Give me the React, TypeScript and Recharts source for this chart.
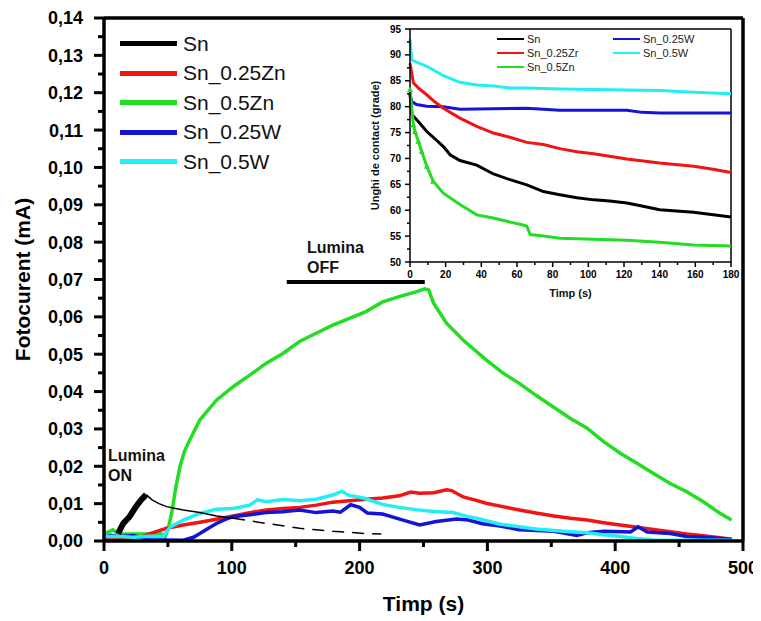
import { LineChart, Line, XAxis, YAxis, ReferenceLine, Legend } from "recharts";

const FONT = "Arial, 'Liberation Sans', sans-serif";

const BLACK = "#000000";
const RED = "#f01414";
const GREEN = "#22dd22";
const BLUE = "#1414d6";
const CYAN = "#22eef6";

// main plot: photocurrent (mA) vs time (s), pairs of [t, value]
const snRise = [[11, 0.002], [15, 0.0047], [20, 0.0065], [25, 0.0092], [29, 0.011], [33, 0.0124]];
const snFit = [[33, 0.0124], [37.6, 0.011], [43, 0.01], [49, 0.0092], [56, 0.0087], [62, 0.0083], [75, 0.0076], [88, 0.0067], [101, 0.0061]];
const snFitDash = [[101, 0.0061], [114, 0.0054], [127, 0.0047], [140, 0.0041], [153, 0.0034], [166, 0.003], [179, 0.0026], [192, 0.0023], [205, 0.002], [217, 0.0019]];
const zn25 = [[0, 0.0008], [10, 0.0006], [23, 0.0008], [30, 0.0012], [36, 0.002], [49, 0.0034], [62, 0.0043], [75, 0.005], [88, 0.0058], [101, 0.0067], [114, 0.0076], [127, 0.0083], [140, 0.0087], [153, 0.009], [166, 0.0096], [179, 0.0104], [192, 0.0108], [205, 0.0112], [218, 0.0115], [231, 0.0121], [240, 0.0131], [247, 0.0128], [258, 0.0129], [268, 0.0137], [272, 0.0135], [281, 0.0118], [290, 0.011], [299, 0.0101], [312, 0.0092], [325, 0.0083], [338, 0.0075], [352, 0.0067], [365, 0.0061], [378, 0.0056], [391, 0.0049], [404, 0.0043], [417, 0.0037], [430, 0.0031], [443, 0.0025], [456, 0.0019], [469, 0.0014], [482, 0.0009], [491, 0.0005]];
const zn5 = [[0, 0.002], [4, 0.0025], [7, 0.003], [10, 0.0022], [14, 0.0019], [25, 0.0019], [35, 0.0019], [45, 0.0019], [48, 0.0013], [50, 0.003], [53, 0.0075], [56, 0.014], [59.5, 0.02], [63, 0.024], [67, 0.027], [75, 0.0324], [88, 0.0377], [101, 0.0413], [114, 0.0444], [127, 0.0476], [140, 0.0502], [153, 0.0534], [166, 0.0556], [179, 0.0578], [192, 0.0596], [205, 0.0614], [218, 0.064], [231, 0.0654], [244, 0.0667], [251, 0.0675], [254, 0.0672], [258, 0.0636], [268, 0.0583], [281, 0.0538], [299, 0.0485], [312, 0.045], [325, 0.0422], [338, 0.039], [351, 0.036], [365, 0.0328], [378, 0.0302], [391, 0.0266], [404, 0.0235], [417, 0.0208], [430, 0.0181], [443, 0.0154], [456, 0.0132], [469, 0.0105], [482, 0.0074], [491, 0.0056]];
const w25 = [[0, 0.001], [5, 0.0015], [12, 0.0012], [23, 0.0015], [30, 0.0008], [36, 0.0005], [50, 0.0003], [62, 0.0002], [70, 0.001], [75, 0.002], [82, 0.0035], [88, 0.0047], [95, 0.0058], [101, 0.0065], [114, 0.007], [127, 0.0076], [140, 0.0078], [153, 0.0083], [166, 0.0076], [179, 0.008], [185, 0.0077], [193, 0.0097], [200, 0.009], [206, 0.0075], [218, 0.0072], [232, 0.0058], [247, 0.0043], [260, 0.0052], [276, 0.0059], [285, 0.0056], [296, 0.0046], [310, 0.004], [325, 0.003], [352, 0.0026], [370, 0.0015], [378, 0.0022], [391, 0.0026], [412, 0.0024], [418, 0.0038], [425, 0.0024], [443, 0.002], [456, 0.0012], [469, 0.001], [491, 0.0005]];
const w5 = [[0, 0.0012], [10, 0.0013], [23, 0.001], [35, 0.0013], [46, 0.0012], [52, 0.0038], [62, 0.0056], [75, 0.0074], [88, 0.0085], [101, 0.0087], [114, 0.0096], [120, 0.011], [127, 0.0105], [140, 0.0111], [153, 0.0108], [166, 0.0112], [179, 0.0123], [186, 0.0133], [192, 0.0122], [203, 0.0115], [218, 0.0098], [231, 0.009], [244, 0.0084], [258, 0.0079], [273, 0.0076], [284, 0.0066], [294, 0.0059], [310, 0.0045], [325, 0.0038], [338, 0.0032], [352, 0.0028], [365, 0.0025], [378, 0.0022], [391, 0.0017], [404, 0.0012], [417, 0.0007], [430, 0.0003], [456, 0.0002], [491, 0.0002]];

const xTicks = [0, 50, 100, 150, 200, 250, 300, 350, 400, 450, 500];
const yTicks = [0, 0.005, 0.01, 0.015, 0.02, 0.025, 0.03, 0.035, 0.04, 0.045, 0.05, 0.055, 0.06, 0.065, 0.07, 0.075, 0.08, 0.085, 0.09, 0.095, 0.1, 0.105, 0.11, 0.115, 0.12, 0.125, 0.13, 0.135, 0.14];
const lightOff = [[143, 0.0693], [251, 0.0693]];

// inset: contact angle (grade) vs time (s)
const inSn = [[0, 82.5], [1, 78.5], [5, 77], [9.4, 75.2], [14, 73.8], [18.7, 72.3], [22.5, 70.7], [28, 69.6], [37.4, 68.7], [46.8, 67], [56, 65.9], [65.5, 64.9], [74.8, 63.6], [84, 63], [93.6, 62.4], [103, 62], [112, 61.8], [121.6, 61.4], [130, 60.8], [140, 60.1], [159, 59.6], [180, 58.7]];
const inZr25 = [[0, 88.4], [1.9, 84.6], [5, 83.5], [9.4, 82.3], [14, 80.9], [18.7, 79.7], [28, 77.8], [37.4, 76.2], [46.8, 74.9], [56, 74.1], [65.5, 73.1], [74.8, 72.7], [84, 71.9], [93.6, 71.3], [103, 70.9], [121.6, 69.9], [140, 69.1], [159, 68.5], [170, 67.9], [180, 67.3]];
const inZn5 = [[0, 83.3], [1.9, 76.5], [2.8, 75.2], [4.7, 73.3], [6.5, 71.4], [9.4, 68.5], [13, 65.6], [18.7, 63.3], [28, 61.1], [37.4, 59.1], [46.8, 58.5], [56, 57.7], [63, 57.2], [65.5, 56.9], [67.4, 55.3], [74.8, 55], [84, 54.6], [103, 54.4], [121.6, 54.2], [140, 53.8], [159, 53.3], [180, 53.1]];
const inW25 = [[0, 82.3], [1, 81], [3.7, 80.4], [9.4, 80.1], [18.7, 80], [28, 79.5], [46.8, 79.6], [65.5, 79.7], [84, 79.3], [103, 79.3], [121.6, 79.3], [130, 78.9], [140, 78.8], [180, 78.8]];
const inW5 = [[0, 93], [1, 89], [9.4, 87.8], [18.7, 86], [28, 84.7], [37.4, 84.2], [46.8, 84], [56, 83.6], [65.5, 83.6], [84, 83.4], [103, 83.3], [121.6, 83.2], [140, 83.1], [159, 82.8], [180, 82.5]];

const inXTicks = [0, 10, 20, 30, 40, 50, 60, 70, 80, 90, 100, 110, 120, 130, 140, 150, 160, 170, 180];
const inYTicks = [50, 52.5, 55, 57.5, 60, 62.5, 65, 67.5, 70, 72.5, 75, 77.5, 80, 82.5, 85, 87.5, 90, 92.5, 95];

const mainLegend = [
  { name: "Sn", color: BLACK },
  { name: "Sn_0.25Zn", color: RED },
  { name: "Sn_0.5Zn", color: GREEN },
  { name: "Sn_0.25W", color: BLUE },
  { name: "Sn_0.5W", color: CYAN },
];
const insetLegendLeft = [
  { name: "Sn", color: BLACK },
  { name: "Sn_0.25Zr", color: RED },
  { name: "Sn_0.5Zn", color: GREEN },
];
const insetLegendRight = [
  { name: "Sn_0.25W", color: BLUE },
  { name: "Sn_0.5W", color: CYAN },
];

const toPts = (rows: number[][]) => rows.map(([t, v]) => ({ t, v }));

const MainXTick = ({ x, y, payload }: any) => {
  const major = payload.value % 100 === 0;
  return (
    <g>
      <line x1={x} x2={x} y1={y} y2={y + (major ? 10 : 6)} stroke="#000" strokeWidth={3} />
      {major && (
        <text x={x} y={y + 20} dy="0.72em" textAnchor="middle" fontSize={18} fontWeight="bold" fill="#000" fontFamily={FONT}>
          {payload.value}
        </text>
      )}
    </g>
  );
};

const MainYTick = ({ x, y, payload }: any) => {
  const major = Math.round(payload.value * 1000) % 10 === 0;
  return (
    <g>
      <line x1={x - (major ? 10 : 6)} x2={x} y1={y} y2={y} stroke="#000" strokeWidth={3} />
      {major && (
        <text x={x - 21} y={y} dy="0.36em" textAnchor="end" fontSize={18} fontWeight="bold" fill="#000" fontFamily={FONT}>
          {payload.value.toFixed(2).replace(".", ",")}
        </text>
      )}
    </g>
  );
};

const InXTick = ({ x, y, payload }: any) => {
  const major = payload.value % 20 === 0;
  return (
    <g>
      <line x1={x} x2={x} y1={y} y2={y + (major ? 5 : 3)} stroke="#000" strokeWidth={1.5} />
      {major && (
        <text x={x} y={y + 9} dy="0.72em" textAnchor="middle" fontSize={10} fontWeight="bold" fill="#000" fontFamily={FONT}>
          {payload.value}
        </text>
      )}
    </g>
  );
};

const InYTick = ({ x, y, payload }: any) => {
  const major = payload.value % 5 === 0;
  return (
    <g>
      <line x1={x - (major ? 5 : 3)} x2={x} y1={y} y2={y} stroke="#000" strokeWidth={1.5} />
      {major && (
        <text x={x - 9} y={y} dy="0.36em" textAnchor="end" fontSize={10} fontWeight="bold" fill="#000" fontFamily={FONT}>
          {payload.value}
        </text>
      )}
    </g>
  );
};

const triDot = (p: any) => {
  const { cx, cy, payload, index } = p;
  if (payload.t > 14) return <g key={index} />;
  return <path key={index} d={`M${cx},${cy - 3} L${cx + 3},${cy + 2.5} L${cx - 3},${cy + 2.5} Z`} fill={GREEN} />;
};

const renderMainLegend = () => (
  <div style={{ fontFamily: FONT }}>
    {mainLegend.map((item) => (
      <div key={item.name} style={{ display: "flex", alignItems: "center", height: 29.5 }}>
        <div style={{ width: 57, height: 5, background: item.color, marginRight: 6 }} />
        <span style={{ fontSize: 21, color: "#111" }}>{item.name}</span>
      </div>
    ))}
  </div>
);

const legendColumn = (items: { name: string; color: string }[], left: number) => (
  <div style={{ position: "absolute", left, top: 0 }}>
    {items.map((item) => (
      <div key={item.name} style={{ display: "flex", alignItems: "center", height: 14 }}>
        <div style={{ width: 27, height: 2, background: item.color, marginRight: 3 }} />
        <span style={{ fontSize: 11, color: "#222", whiteSpace: "nowrap" }}>{item.name}</span>
      </div>
    ))}
  </div>
);

const renderInsetLegend = () => (
  <div style={{ position: "relative", fontFamily: FONT, width: 240, height: 44 }}>
    {legendColumn(insetLegendLeft, 0)}
    {legendColumn(insetLegendRight, 116)}
  </div>
);

const note: React.CSSProperties = {
  position: "absolute",
  fontFamily: FONT,
  fontWeight: "bold",
  fontSize: 16,
  lineHeight: "20px",
  color: "#111",
};

export default function App() {
  return (
    <div style={{ position: "relative", width: 753, height: 613 }}>
      <LineChart width={753} height={613} margin={{ top: 10, right: 18, bottom: 0, left: 0 }}>
        <XAxis
          dataKey="t"
          type="number"
          domain={[0, 500]}
          ticks={xTicks}
          interval={0}
          height={80}
          tickSize={0}
          tickMargin={0}
          tickLine={false}
          axisLine={{ stroke: "#000", strokeWidth: 3.5 }}
          tick={<MainXTick />}
          label={{ value: "Timp (s)", position: "insideBottom", offset: 10, fontSize: 21, fontWeight: "bold", fill: "#000", fontFamily: FONT }}
        />
        <YAxis
          type="number"
          domain={[0, 0.14]}
          ticks={yTicks}
          interval={0}
          width={96}
          tickSize={0}
          tickMargin={0}
          tickLine={false}
          axisLine={{ stroke: "#000", strokeWidth: 3.5 }}
          tick={<MainYTick />}
          label={{ value: "Fotocurent (mA)", angle: -90, position: "insideLeft", offset: 15, fontSize: 21, fontWeight: "bold", fill: "#000", fontFamily: FONT, style: { textAnchor: "middle" } }}
        />
        <ReferenceLine y={0.14} stroke="#000" strokeWidth={3.5} />
        <ReferenceLine x={500} stroke="#000" strokeWidth={3.5} />
        <Line data={toPts(lightOff)} dataKey="v" stroke="#000" strokeWidth={4} dot={false} isAnimationActive={false} legendType="none" />
        <Line data={toPts(zn5)} dataKey="v" name="Sn_0.5Zn" stroke={GREEN} strokeWidth={3.5} dot={false} isAnimationActive={false} />
        <Line data={toPts(zn25)} dataKey="v" name="Sn_0.25Zn" stroke={RED} strokeWidth={3.5} dot={false} isAnimationActive={false} />
        <Line data={toPts(w25)} dataKey="v" name="Sn_0.25W" stroke={BLUE} strokeWidth={3.5} dot={false} isAnimationActive={false} />
        <Line data={toPts(w5)} dataKey="v" name="Sn_0.5W" stroke={CYAN} strokeWidth={3.5} dot={false} isAnimationActive={false} />
        <Line data={toPts(snFit)} dataKey="v" stroke={BLACK} strokeWidth={1.5} dot={false} isAnimationActive={false} legendType="none" />
        <Line data={toPts(snFitDash)} dataKey="v" stroke={BLACK} strokeWidth={1.5} strokeDasharray="12 8" dot={false} isAnimationActive={false} legendType="none" />
        <Line data={toPts(snRise)} dataKey="v" name="Sn" stroke={BLACK} strokeWidth={6} dot={false} isAnimationActive={false} />
        <Legend
          layout="horizontal"
          verticalAlign="middle"
          align="center"
          content={renderMainLegend}
          wrapperStyle={{ position: "absolute", left: 112, top: 21, width: 200, height: 150 }}
        />
      </LineChart>

      <div style={{ ...note, left: 100, top: 438 }}>
        Lumina
        <br />
        ON
      </div>
      <div style={{ ...note, left: 299, top: 230 }}>
        Lumina
        <br />
        OFF
      </div>

      <div style={{ position: "absolute", left: 340, top: 10 }}>
        <LineChart width={398} height={289} margin={{ top: 11, right: 15, bottom: 0, left: 0 }}>
          <XAxis
            dataKey="t"
            type="number"
            domain={[0, 180]}
            ticks={inXTicks}
            interval={0}
            height={45}
            tickSize={0}
            tickMargin={0}
            tickLine={false}
            axisLine={{ stroke: "#000", strokeWidth: 1.5 }}
            tick={<InXTick />}
            label={{ value: "Timp (s)", position: "insideBottom", offset: 10, fontSize: 11, fontWeight: "bold", fill: "#111", fontFamily: FONT }}
          />
          <YAxis
            type="number"
            domain={[50, 95]}
            ticks={inYTicks}
            interval={0}
            width={62}
            tickSize={0}
            tickMargin={0}
            tickLine={false}
            axisLine={{ stroke: "#000", strokeWidth: 1.5 }}
            tick={<InYTick />}
            label={{ value: "Unghi de contact (grade)", angle: -90, position: "insideLeft", offset: 27, fontSize: 11, fontWeight: "bold", fill: "#111", fontFamily: FONT, style: { textAnchor: "middle" } }}
          />
          <ReferenceLine y={95} stroke="#000" strokeWidth={1.5} />
          <ReferenceLine x={180} stroke="#000" strokeWidth={1.5} />
          <Line data={toPts(inW5)} dataKey="v" name="Sn_0.5W" stroke={CYAN} strokeWidth={3} dot={false} isAnimationActive={false} />
          <Line data={toPts(inW25)} dataKey="v" name="Sn_0.25W" stroke={BLUE} strokeWidth={3} dot={false} isAnimationActive={false} />
          <Line data={toPts(inZr25)} dataKey="v" name="Sn_0.25Zr" stroke={RED} strokeWidth={3} dot={false} isAnimationActive={false} />
          <Line data={toPts(inSn)} dataKey="v" name="Sn" stroke={BLACK} strokeWidth={3} dot={false} isAnimationActive={false} />
          <Line data={toPts(inZn5)} dataKey="v" name="Sn_0.5Zn" stroke={GREEN} strokeWidth={3} dot={triDot} isAnimationActive={false} />
          <Legend
            layout="horizontal"
            verticalAlign="middle"
            align="center"
            content={renderInsetLegend}
            wrapperStyle={{ position: "absolute", left: 149, top: 14, width: 240, height: 44 }}
          />
        </LineChart>
      </div>
    </div>
  );
}
